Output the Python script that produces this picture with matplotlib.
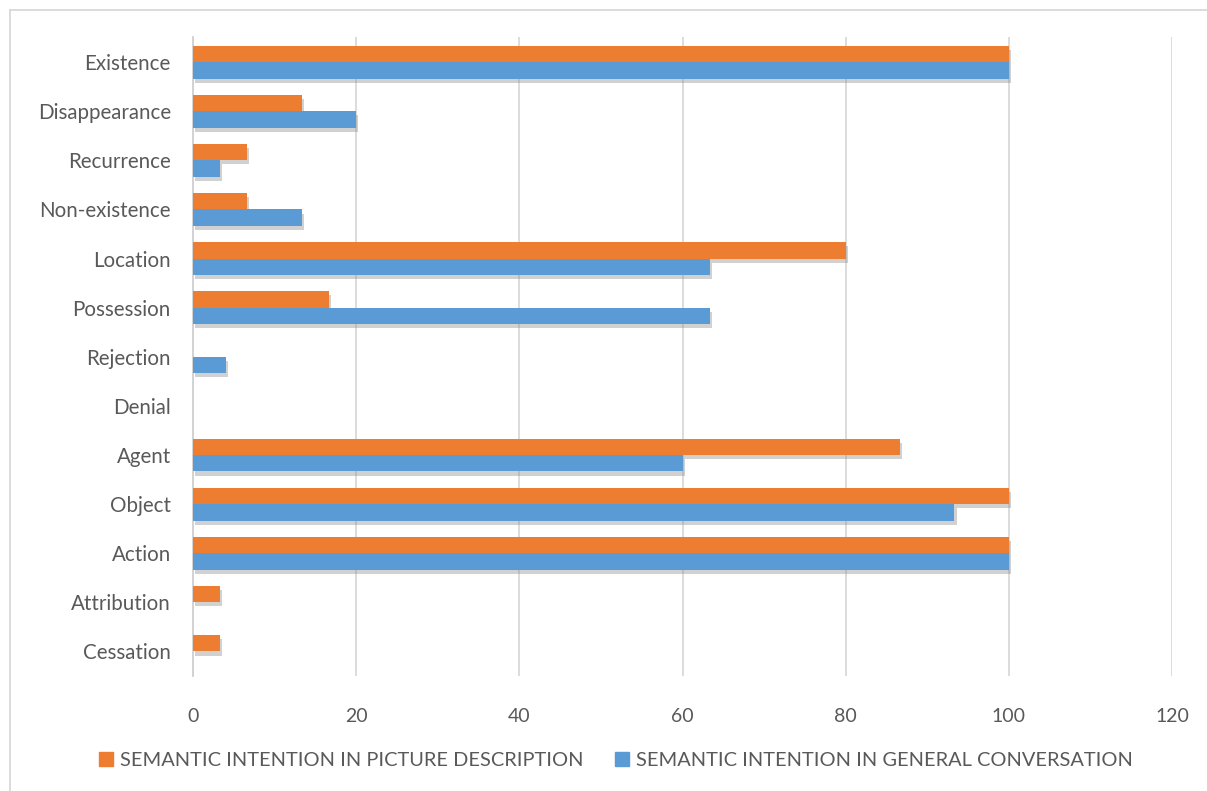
import matplotlib
matplotlib.use("Agg")
from matplotlib import pyplot as plt
from matplotlib import patheffects as pe
from matplotlib.lines import Line2D
import numpy as np

# categories listed from top to bottom as in the chart
categories = ["Existence", "Disappearance", "Recurrence", "Non-existence", "Location",
              "Possession", "Rejection", "Denial", "Agent", "Object", "Action",
              "Attribution", "Cessation"]
picture_desc = [100, 13.33, 6.67, 6.67, 80, 16.67, 0, 0, 86.67, 100, 100, 3.33, 3.33]
general_conv = [100, 20, 3.33, 13.33, 63.33, 63.33, 4, 0, 60, 93.33, 100, 0, 0]
label_pic = "SEMANTIC INTENTION IN PICTURE DESCRIPTION"
label_gen = "SEMANTIC INTENTION IN GENERAL CONVERSATION"

orange = "#ED7D31"
blue = "#5B9BD5"
text_col = "#595959"

plt.rcParams['font.family'] = ['Lato', 'DejaVu Sans']

fig = plt.figure(figsize=(12.07, 7.91), dpi=100)
ax = fig.add_axes([193 / 1207, 1 - 676 / 791, (1172 - 193) / 1207, (676 - 37.5) / 791])

y = np.arange(len(categories))
h = 0.335
shadow = [pe.SimplePatchShadow(offset=(1.5, -3), shadow_rgbFace="#8c8c8c", alpha=0.4), pe.Normal()]

bars_pic = ax.barh(y - h / 2, picture_desc, height=h, color=orange, zorder=3)
bars_gen = ax.barh(y + h / 2, general_conv, height=h, color=blue, zorder=3)
for b in list(bars_pic) + list(bars_gen):
    if b.get_width() > 0:
        b.set_path_effects(shadow)

ax.set_xlim(0, 120)
ax.set_ylim(len(categories) - 0.5, -0.5)
ax.set_xticks(range(0, 121, 20))
ax.set_yticks(y)
ax.set_yticklabels(categories)
ax.grid(axis="x", color="#d9d9d9", linewidth=1.3, zorder=0)
for s in ["top", "right", "bottom"]:
    ax.spines[s].set_visible(False)
ax.spines["left"].set_color("#d0d0d0")
ax.spines["left"].set_linewidth(1.3)
ax.tick_params(axis="both", length=0, colors=text_col)
ax.tick_params(axis="x", pad=23, labelsize=14)
ax.tick_params(axis="y", pad=16, labelsize=14.8)

handles = [Line2D([], [], marker="s", linestyle="none", markersize=10, color=orange),
           Line2D([], [], marker="s", linestyle="none", markersize=10, color=blue)]
leg = fig.legend(handles, [label_pic, label_gen], loc="center", bbox_to_anchor=(0.51, 1 - 760 / 791),
                 ncol=2, frameon=False, fontsize=14.4, handletextpad=0.3, columnspacing=1.5,
                 handlelength=0.8)
for t in leg.get_texts():
    t.set_color(text_col)

# chart area border
fig.add_artist(Line2D([9.5 / 1207, 9.5 / 1207], [0, 1 - 10 / 791], color="#d9d9d9", linewidth=1.3))
fig.add_artist(Line2D([9.5 / 1207, 1], [1 - 10 / 791, 1 - 10 / 791], color="#d9d9d9", linewidth=1.3))

fig.savefig("out.png", dpi=100)
